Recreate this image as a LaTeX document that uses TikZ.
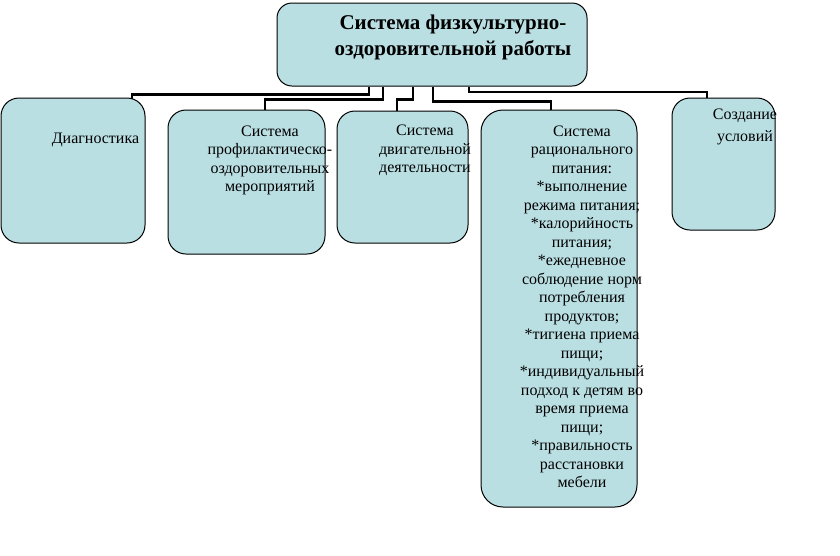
\documentclass[tikz,border=0pt]{standalone}
\usepackage{fontspec}
\setmainfont{Liberation Serif}
\definecolor{boxfill}{RGB}{186,223,227}
\tikzset{
  blk/.style={draw=black, line width=1pt, fill=boxfill, rounded corners=18pt, inner sep=0pt, rectangle},
  conn/.style={draw=black, line width=2.8pt, line join=miter, line cap=butt},
  txt/.style={inner sep=0pt, align=center, anchor=north, font=\fontsize{16}{18.5}\selectfont},
}
\begin{document}
\begin{tikzpicture}[x=1pt,y=-1pt]
\useasboundingbox (0,0) rectangle (840,555);
% boxes
\node[blk, rounded corners=15pt, minimum width=310pt, minimum height=83pt] (top) at (432,44.5) {};
\node[blk, minimum width=144pt, minimum height=145pt] (b1) at (73,170.5) {};
\node[blk, minimum width=157pt, minimum height=144pt] (b2) at (246.5,182) {};
\node[blk, minimum width=131pt, minimum height=132pt] (b3) at (402.5,177) {};
\node[blk, rounded corners=22pt, minimum width=156pt, minimum height=397pt] (b4) at (559,308.5) {};
\node[blk, minimum width=103pt, minimum height=132pt] (b5) at (723.5,164) {};
% connectors
\draw[conn] (top.south -| 369,0) -- (369,94.5) -| ([yshift=-1.5pt]b1.north -| 132,0);
\draw[conn] (top.south -| 383,0) -- (383,99.3) -| (b2.north -| 265,0);
\draw[conn] (top.south -| 413,0) -- (413,99.3) -| (b3.north -| 397,0);
\draw[conn] (top.south -| 433,0) -- (433,101.3) -| (b4.north -| 551,0);
\draw[conn] (top.south -| 469,0) -- (469,92) -| (b5.north -| 707,0);
% texts
\node[txt, font=\fontsize{21}{25.5}\selectfont\bfseries] (ttop) at (453,11.65)
  {\strut Система физкультурно-\\оздоровительной работы};
\node[inner sep=0pt, anchor=base, font=\fontsize{16}{18.5}\selectfont] (t1) at (95.5,143) {Диагностика};
\node[txt] (t2) at (270,123.05) {\strut Система\\профилактическо-\\оздоровительных\\мероприятий};
\node[txt] (t3) at (425,122.55) {\strut Система\\двигательной\\деятельности};
\node[txt] (t4) at (582,123.05) {\strut Система\\рационального\\питания:\\*выполнение\\режима питания;\\*калорийность\\питания;\\*ежедневное\\соблюдение норм\\потребления\\продуктов;\\*тигиена приема\\пищи;\\*индивидуальный\\подход к детям во\\время приема\\пищи;\\*правильность\\расстановки\\мебели};
\node[txt, font=\fontsize{16}{21.5}\selectfont] (t5) at (745,104.45) {\strut Создание\\условий};
\end{tikzpicture}
\end{document}
